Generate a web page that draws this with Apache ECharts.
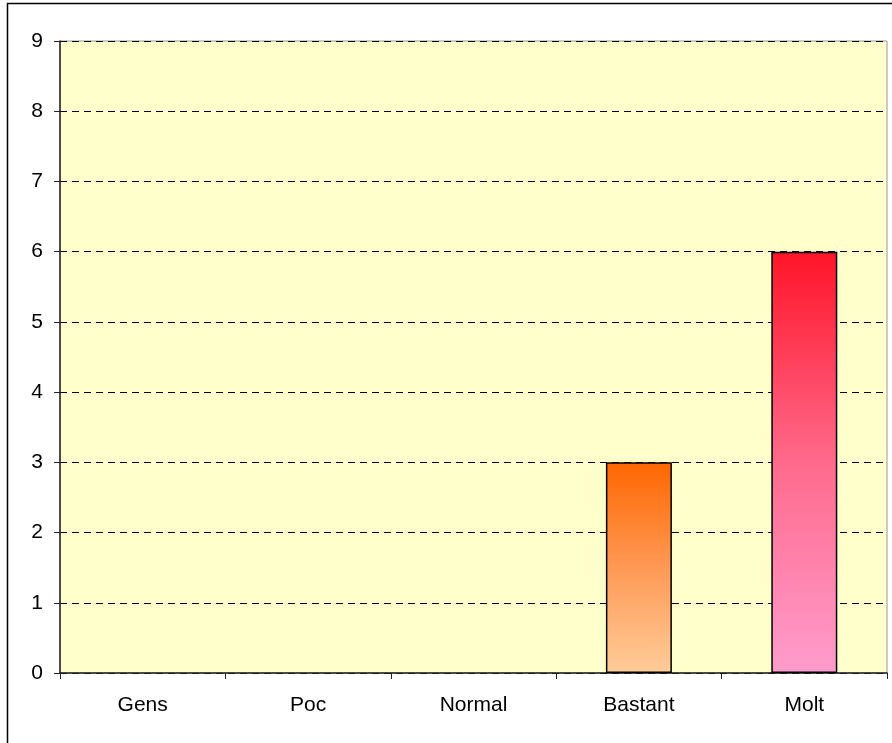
<!DOCTYPE html>
<html>
<head>
<meta charset="utf-8">
<script src="https://cdn.jsdelivr.net/npm/echarts@6/dist/echarts.min.js"></script>
<style>
  html, body { margin: 0; padding: 0; background: #fff; }
  #chart { width: 892px; height: 743px; }
</style>
</head>
<body>
<div id="chart"></div>
<script>
const categories = ['Gens', 'Poc', 'Normal', 'Bastant', 'Molt']
const values = [0, 0, 0, 3, 6]
const yTicks = { min: 0, max: 9, interval: 1 }

const barColors = {
  Bastant: ['#FF6600', '#FF9955', '#FFCC99'],
  Molt: ['#FF1428', '#FF6A8C', '#FF9CCC']
}

const grad = (c) => new echarts.graphic.LinearGradient(0, 0, 0, 1, [
  { offset: 0, color: c[0] },
  { offset: 0.5, color: c[1] },
  { offset: 1, color: c[2] }
])

const chart = echarts.init(document.getElementById('chart'))

chart.setOption({
  animation: false,
  graphic: [
    {
      type: 'rect',
      shape: { x: 7.5, y: 3.5, width: 1000, height: 1000 },
      style: { fill: 'none', stroke: '#000', lineWidth: 1.5 },
      z: 100
    }
  ],
  grid: {
    left: 60,
    right: 5,
    top: 41,
    bottom: 70,
    show: true,
    backgroundColor: '#FFFFCC',
    borderColor: '#999',
    borderWidth: 1
  },
  xAxis: {
    type: 'category',
    data: categories,
    axisLine: { lineStyle: { color: '#222', width: 1.5 } },
    axisTick: { show: true, length: 6, alignWithLabel: false, lineStyle: { color: '#222' } },
    axisLabel: { color: '#000', fontSize: 21, fontFamily: 'Liberation Sans', margin: 22 },
    splitLine: { show: false }
  },
  yAxis: {
    type: 'value',
    min: yTicks.min,
    max: yTicks.max,
    interval: yTicks.interval,
    axisLine: { show: true, lineStyle: { color: '#222', width: 1.5 } },
    axisTick: { show: true, length: 6, lineStyle: { color: '#222' } },
    axisLabel: { color: '#000', fontSize: 21, fontFamily: 'Liberation Sans', margin: 17 },
    splitLine: { show: true, lineStyle: { color: '#000', type: [7, 5], width: 1 } }
  },
  series: [
    {
      type: 'bar',
      barWidth: 66,
      data: values.map((v, i) => {
        const c = barColors[categories[i]]
        return {
          value: v,
          itemStyle: c ? { color: grad(c), borderColor: '#000', borderWidth: 1.5 } : {}
        }
      })
    }
  ]
})
</script>
</body>
</html>
